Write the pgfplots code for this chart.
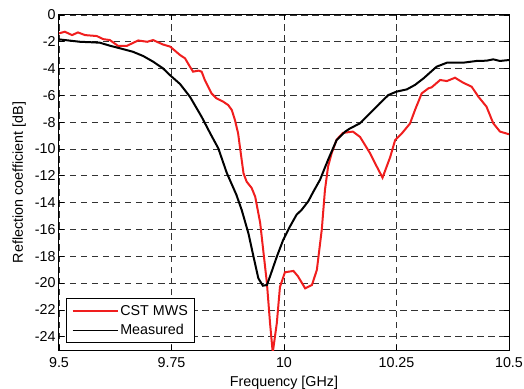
\documentclass[border=0pt]{standalone}
\usepackage{fontspec}
\setmainfont{Liberation Sans}
\usepackage{pgfplots}
\pgfplotsset{compat=1.18}
\definecolor{cstred}{RGB}{240,30,30}
\newcommand{\chartfont}{\fontsize{14.3bp}{16bp}\selectfont}
\begin{document}
\begin{tikzpicture}
\begin{axis}[
  scale only axis, width=450bp, height=335bp,
  xmin=9.5, xmax=10.5, ymin=-25, ymax=0,
  xtick={9.5,9.75,10,10.25,10.5}, xticklabels={9.5,9.75,10,10.25,10.5},
  ytick={-24,-22,-20,-18,-16,-14,-12,-10,-8,-6,-4,-2,0},
  yticklabels={-24,-22,-20,-18,-16,-14,-12,-10,-8,-6,-4,-2,0},
  tick align=inside, tick pos=both, major tick length=5bp,
  tick style={black, line width=0.6bp},
  grid=major, grid style={dash pattern=on 6.5bp off 4.5bp, black!80, line width=0.6bp},
  axis line style={line width=1bp, black},
  tick label style={font=\chartfont},
  xticklabel style={anchor=base, yshift=-17bp},
  label style={font=\chartfont},
  xlabel={Frequency [GHz]}, ylabel={Reflection coefficient [dB]},
  xlabel style={at={(axis description cs:0.5,0)}, anchor=base, yshift=-36bp},
  ylabel style={at={(axis description cs:-0.08,0.5)}, anchor=base},
  legend style={at={(rel axis cs:0.016,0.02)}, anchor=south west, draw=black, line width=1bp,
    font=\chartfont, inner xsep=5bp, inner ysep=4.5bp, row sep=3.5bp},
  legend cell align=left,
  legend image code/.code={\draw[#1, line width=1.6bp] (0bp,0bp) -- (45bp,0bp);},
]
\addplot[cstred, line width=2bp] coordinates {
(9.500,-1.37) (9.513,-1.25) (9.529,-1.5) (9.542,-1.3) (9.558,-1.5) (9.584,-1.57)
(9.598,-1.8) (9.613,-1.87) (9.631,-2.3) (9.651,-2.3) (9.676,-1.9) (9.696,-2.0)
(9.709,-1.87) (9.731,-2.2) (9.747,-2.36) (9.769,-2.99) (9.780,-3.23) (9.791,-3.86)
(9.798,-4.23) (9.810,-4.15) (9.817,-4.23) (9.824,-4.85) (9.839,-5.85) (9.850,-6.22)
(9.865,-6.47) (9.876,-6.72) (9.884,-7.09) (9.891,-7.84) (9.898,-8.83) (9.902,-9.83)
(9.906,-10.82) (9.910,-11.81) (9.917,-12.44) (9.928,-12.9) (9.936,-13.56) (9.947,-15.5)
(9.962,-20.0) (9.969,-23.0) (9.975,-25.2) (9.984,-23.0) (9.991,-20.3) (10.002,-19.2)
(10.021,-19.1) (10.031,-19.5) (10.047,-20.4) (10.062,-20.15) (10.073,-19.03) (10.084,-16.0)
(10.091,-13.06) (10.098,-11.3) (10.106,-10.3) (10.117,-9.3) (10.131,-8.8) (10.153,-8.7)
(10.169,-9.1) (10.191,-10.3) (10.206,-11.3) (10.219,-12.14) (10.236,-10.6) (10.247,-9.33)
(10.262,-8.83) (10.280,-8.1) (10.291,-7.1) (10.306,-5.85) (10.321,-5.47) (10.328,-5.4)
(10.347,-4.85) (10.362,-4.93) (10.380,-4.68) (10.398,-5.05) (10.417,-5.35) (10.432,-6.1)
(10.450,-6.84) (10.465,-8.08) (10.480,-8.7) (10.500,-8.9)
};
\addlegendentry{CST MWS}
\addplot[black, line width=2bp] coordinates {
(9.500,-1.82) (9.547,-2.0) (9.576,-2.04) (9.591,-2.07) (9.613,-2.29) (9.636,-2.49)
(9.664,-2.74) (9.687,-3.06) (9.709,-3.48) (9.731,-3.98) (9.747,-4.5) (9.769,-5.15)
(9.791,-6.1) (9.817,-7.6) (9.836,-8.83) (9.854,-9.95) (9.873,-11.8) (9.894,-13.4)
(9.906,-14.55) (9.921,-16.3) (9.932,-18.0) (9.943,-19.65) (9.953,-20.2) (9.962,-20.15)
(9.969,-19.5) (9.984,-18.04) (9.998,-16.8) (10.013,-15.8) (10.028,-14.9) (10.039,-14.55)
(10.054,-13.9) (10.065,-13.2) (10.080,-12.3) (10.098,-10.8) (10.117,-9.33) (10.136,-8.7)
(10.147,-8.46) (10.169,-8.08) (10.191,-7.34) (10.213,-6.59) (10.232,-5.97) (10.250,-5.72)
(10.273,-5.55) (10.291,-5.22) (10.310,-4.73) (10.339,-3.86) (10.362,-3.56) (10.398,-3.56)
(10.428,-3.43) (10.450,-3.41) (10.465,-3.31) (10.480,-3.43) (10.500,-3.36)
};
\addlegendentry{Measured}
\end{axis}
\pgfresetboundingbox
\useasboundingbox (-59bp,-39bp) rectangle (465bp,350bp);
\end{tikzpicture}
\end{document}
